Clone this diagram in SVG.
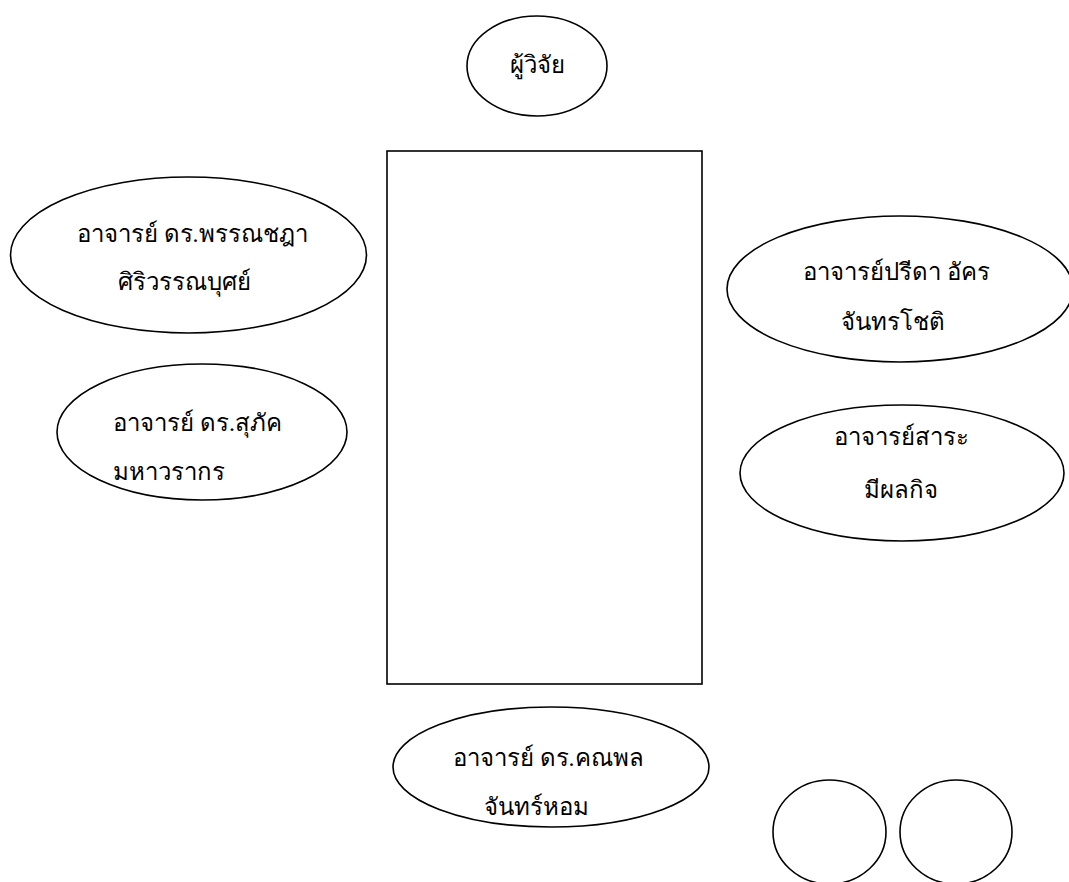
<svg xmlns="http://www.w3.org/2000/svg" width="1069" height="882" viewBox="0 0 1069 882">
<style>
.s{fill:#fff;stroke:#000;stroke-width:1.6}
.t{font-family:"Liberation Serif","DejaVu Serif",serif;font-size:24px;fill:#000}
.c{text-anchor:middle}
</style>
<rect width="1069" height="882" fill="#fff"/>
<g id="connectors"/>
<g id="researcher"><ellipse class="s" cx="537" cy="66" rx="70" ry="50"/><text class="t c" x="537" y="73">ผู้วิจัย</text></g>
<g id="box"><rect class="s" x="387" y="151" width="315" height="533"/></g>
<g id="pannachada"><ellipse class="s" cx="188.5" cy="255" rx="178" ry="78"/><text class="t c" x="192" y="242">อาจารย์ ดร.พรรณชฎา</text><text class="t c" x="184" y="290">ศิริวรรณบุศย์</text></g>
<g id="preeda"><ellipse class="s" cx="900" cy="289" rx="173" ry="73"/><text class="t c" x="896" y="280">อาจารย์ปรีดา อัคร</text><text class="t c" x="893" y="330">จันทรโชติ</text></g>
<g id="supak"><ellipse class="s" cx="202" cy="432" rx="145" ry="68"/><text class="t" x="113" y="431">อาจารย์ ดร.สุภัค</text><text class="t" x="113" y="480">มหาวรากร</text></g>
<g id="sara"><ellipse class="s" cx="902" cy="473" rx="162" ry="68"/><text class="t c" x="901" y="445">อาจารย์สาระ</text><text class="t c" x="901" y="498">มีผลกิจ</text></g>
<g id="kanaphon"><ellipse class="s" cx="551" cy="767" rx="158" ry="60"/><text class="t c" x="548" y="766">อาจารย์ ดร.คณพล</text><text class="t c" x="536" y="815">จันทร์หอม</text></g>
<g id="circle1"><ellipse class="s" cx="829.5" cy="832" rx="56.5" ry="52"/></g>
<g id="circle2"><ellipse class="s" cx="956" cy="832" rx="56" ry="52"/></g>
</svg>
